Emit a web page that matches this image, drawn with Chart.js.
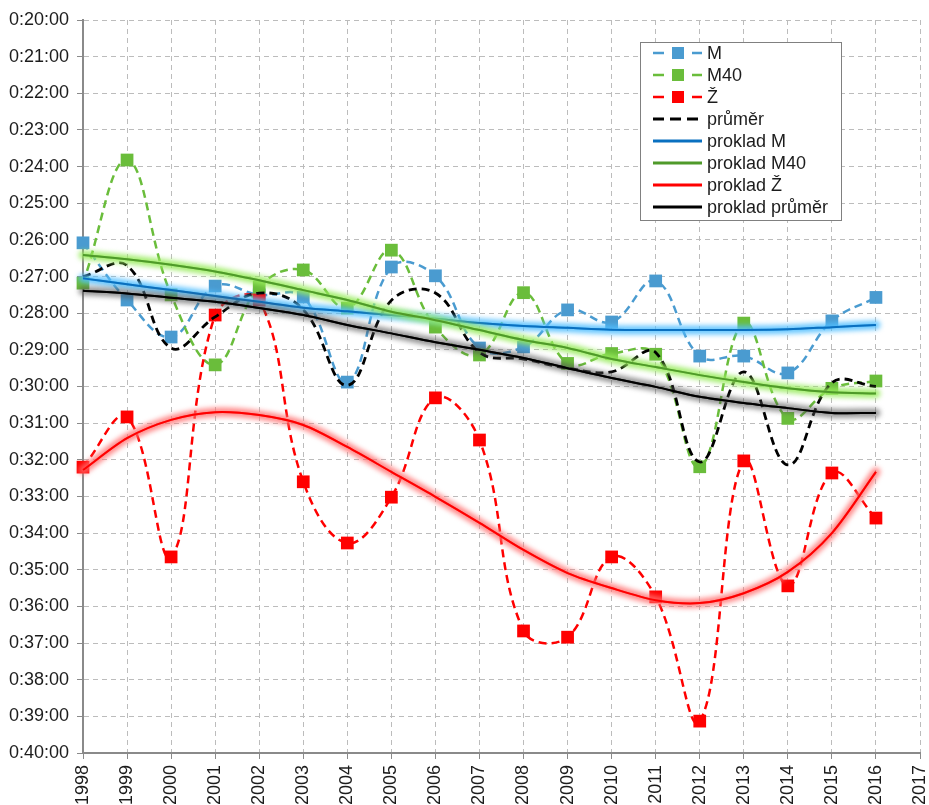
<!DOCTYPE html>
<html>
<head>
<meta charset="utf-8">
<script src="https://cdn.jsdelivr.net/npm/chart.js@4.4.0/dist/chart.umd.min.js"></script>
<style>html,body{margin:0;padding:0;background:#fff;}canvas{display:block;}</style>
</head>
<body>
<canvas id="c" width="929" height="805"></canvas>
<script>
// ---- data (times in minutes after 0:00) ----
const years   = [1998,1999,2000,2001,2002,2003,2004,2005,2006,2007,2008,2009,2010,2011,2012,2013,2014,2015,2016];
const xLabels = [1998,1999,2000,2001,2002,2003,2004,2005,2006,2007,2008,2009,2010,2011,2012,2013,2014,2015,2016,2017];
const yTickMinutes = [20,21,22,23,24,25,26,27,28,29,30,31,32,33,34,35,36,37,38,39,40];

const M      = [26.08,27.64,28.65,27.26,27.50,27.56,29.88,26.74,26.98,28.95,28.92,27.91,28.24,27.12,29.17,29.17,29.63,28.21,27.57];
const M40    = [27.18,23.82,27.50,29.41,27.28,26.82,27.86,26.28,28.38,29.14,27.44,29.37,29.10,29.12,32.19,28.27,30.87,30.05,29.85];
const Z      = [32.20,30.83,34.65,28.05,27.64,32.60,34.27,33.02,30.31,31.46,36.67,36.84,34.65,35.74,39.13,32.03,35.44,32.36,33.59];
const AVG    = [27.00,26.70,28.95,28.10,27.45,27.90,29.97,27.65,27.45,29.07,29.25,29.50,29.60,29.07,32.06,29.60,32.14,29.90,30.00];
const fitM   = [27.05,27.21,27.37,27.53,27.69,27.85,27.95,28.05,28.15,28.27,28.35,28.40,28.45,28.46,28.46,28.46,28.44,28.38,28.32];
const fitM40 = [26.41,26.53,26.68,26.86,27.10,27.37,27.64,27.96,28.19,28.46,28.73,28.95,29.25,29.47,29.69,29.88,30.05,30.16,30.19];
const fitZ   = [32.28,31.41,30.91,30.70,30.78,31.05,31.65,32.33,33.01,33.72,34.46,35.09,35.50,35.83,35.91,35.64,35.06,34.00,32.33];
const fitAVG = [27.39,27.46,27.58,27.69,27.86,28.05,28.32,28.55,28.79,29.00,29.22,29.50,29.77,30.01,30.28,30.45,30.59,30.72,30.72];

const FONT = "'Liberation Sans', Arial, sans-serif";
const TEXT = '#1c1c1c';

function dashedSeries(label, data, color, marker, width){
  return {
    label, data,
    borderColor: color, backgroundColor: color,
    borderWidth: width, borderDash: [8,5],
    tension: 0.4,
    pointStyle: 'rect', pointRadius: marker ? 9 : 0,
    pointBackgroundColor: color, pointBorderWidth: 0,
    pointHoverRadius: marker ? 9 : 0,
    clip: false, fill: false
  };
}
function fitSeries(label, data, color, glow){
  return {
    label, data,
    borderColor: color, backgroundColor: color,
    borderWidth: 2, tension: 0.3,
    pointRadius: 0, pointHoverRadius: 0,
    glow, clip: false, fill: false
  };
}

const datasets = [
  dashedSeries('M', M, '#4a9bd0', true, 2.5),
  dashedSeries('M40', M40, '#6abd3b', true, 2.5),
  dashedSeries('Ž', Z, '#ff0000', true, 2.5),
  dashedSeries('průměr', AVG, '#000000', false, 2.8),
  fitSeries('proklad M', fitM, '#0a70c0', 'rgba(80,190,255,0.85)'),
  fitSeries('proklad M40', fitM40, '#4f9a2a', 'rgba(150,235,90,0.85)'),
  fitSeries('proklad Ž', fitZ, '#ff0000', 'rgba(255,110,110,0.8)'),
  fitSeries('proklad průměr', fitAVG, '#000000', 'rgba(80,80,80,0.6)')
];
datasets.forEach((d,i)=>{ d.order = datasets.length - i; });

const glowPlugin = {
  id: 'glow',
  afterDatasetDraw(chart, args){
    const ds = chart.data.datasets[args.index];
    if (!ds.glow) return;
    const meta = args.meta;
    const ctx = chart.ctx;
    ctx.save();
    ctx.filter = 'blur(2.5px)';
    ctx.strokeStyle = ds.glow;
    ctx.lineWidth = 9;
    ctx.lineJoin = 'round';
    ctx.lineCap = 'round';
    ctx.beginPath();
    meta.dataset.path(ctx);
    ctx.stroke();
    ctx.restore();
    meta.dataset.draw(ctx, chart.chartArea);
  }
};

const legendPlugin = {
  id: 'customLegend',
  afterDraw(chart){
    const ctx = chart.ctx;
    const x0 = 640.5, y0 = 42.5, w = 201, h = 178;
    ctx.save();
    ctx.fillStyle = '#ffffff';
    ctx.fillRect(x0, y0, w, h);
    ctx.strokeStyle = '#808080';
    ctx.lineWidth = 1;
    ctx.strokeRect(x0, y0, w, h);
    chart.data.datasets.forEach((ds, i) => {
      const y = 53 + i * 22;
      ctx.save();
      ctx.strokeStyle = ds.borderColor;
      if (ds.pointRadius > 0) {
        ctx.lineWidth = 2.5;
        ctx.beginPath();
        ctx.moveTo(653, y); ctx.lineTo(664, y);
        ctx.moveTo(692, y); ctx.lineTo(702, y);
        ctx.stroke();
        ctx.fillStyle = ds.pointBackgroundColor;
        ctx.fillRect(672, y - 6, 12, 12);
      } else if (ds.borderDash) {
        ctx.lineWidth = 3;
        ctx.setLineDash([11,6]);
        ctx.beginPath(); ctx.moveTo(653, y); ctx.lineTo(702, y); ctx.stroke();
      } else {
        ctx.lineWidth = 3;
        ctx.beginPath(); ctx.moveTo(653, y); ctx.lineTo(702, y); ctx.stroke();
      }
      ctx.restore();
      ctx.fillStyle = TEXT;
      ctx.font = '18px ' + FONT;
      ctx.textBaseline = 'middle';
      ctx.textAlign = 'left';
      ctx.fillText(ds.label, 707, y + 1);
    });
    ctx.restore();
  }
};

new Chart(document.getElementById('c'), {
  type: 'line',
  data: { labels: xLabels, datasets },
  options: {
    responsive: false,
    animation: false,
    layout: { padding: { left: 0, right: 8, top: 20, bottom: 0 } },
    plugins: { legend: { display: false }, tooltip: { enabled: false } },
    scales: {
      x: {
        type: 'category',
        offset: false,
        grid: { color: '#bcbcbc', lineWidth: 1, tickColor: '#8a8a8a', tickLength: 6 },
        border: { color: '#8a8a8a', width: 2, dash: [5,4] },
        ticks: {
          minRotation: 90, maxRotation: 90, autoSkip: false, padding: 6,
          color: TEXT, font: { size: 18, family: FONT },
          callback: function(v, i){ return String(xLabels[i]); }
        },
        afterFit(s){ s.height = 52; s.paddingLeft = 0; s.paddingRight = 0; }
      },
      y: {
        min: yTickMinutes[0], max: yTickMinutes[yTickMinutes.length-1], reverse: true,
        grid: { color: '#bcbcbc', lineWidth: 1, tickColor: '#8a8a8a', tickLength: 6 },
        border: { color: '#8a8a8a', width: 2, dash: [5,4] },
        ticks: {
          stepSize: 1, padding: 8, autoSkip: false,
          color: TEXT, font: { size: 18, family: FONT },
          callback: v => '0:' + String(v).padStart(2,'0') + ':00'
        },
        afterFit(s){ s.width = 83; s.paddingTop = 0; s.paddingBottom = 0; }
      }
    }
  },
  plugins: [glowPlugin, legendPlugin]
});
</script>
</body>
</html>
